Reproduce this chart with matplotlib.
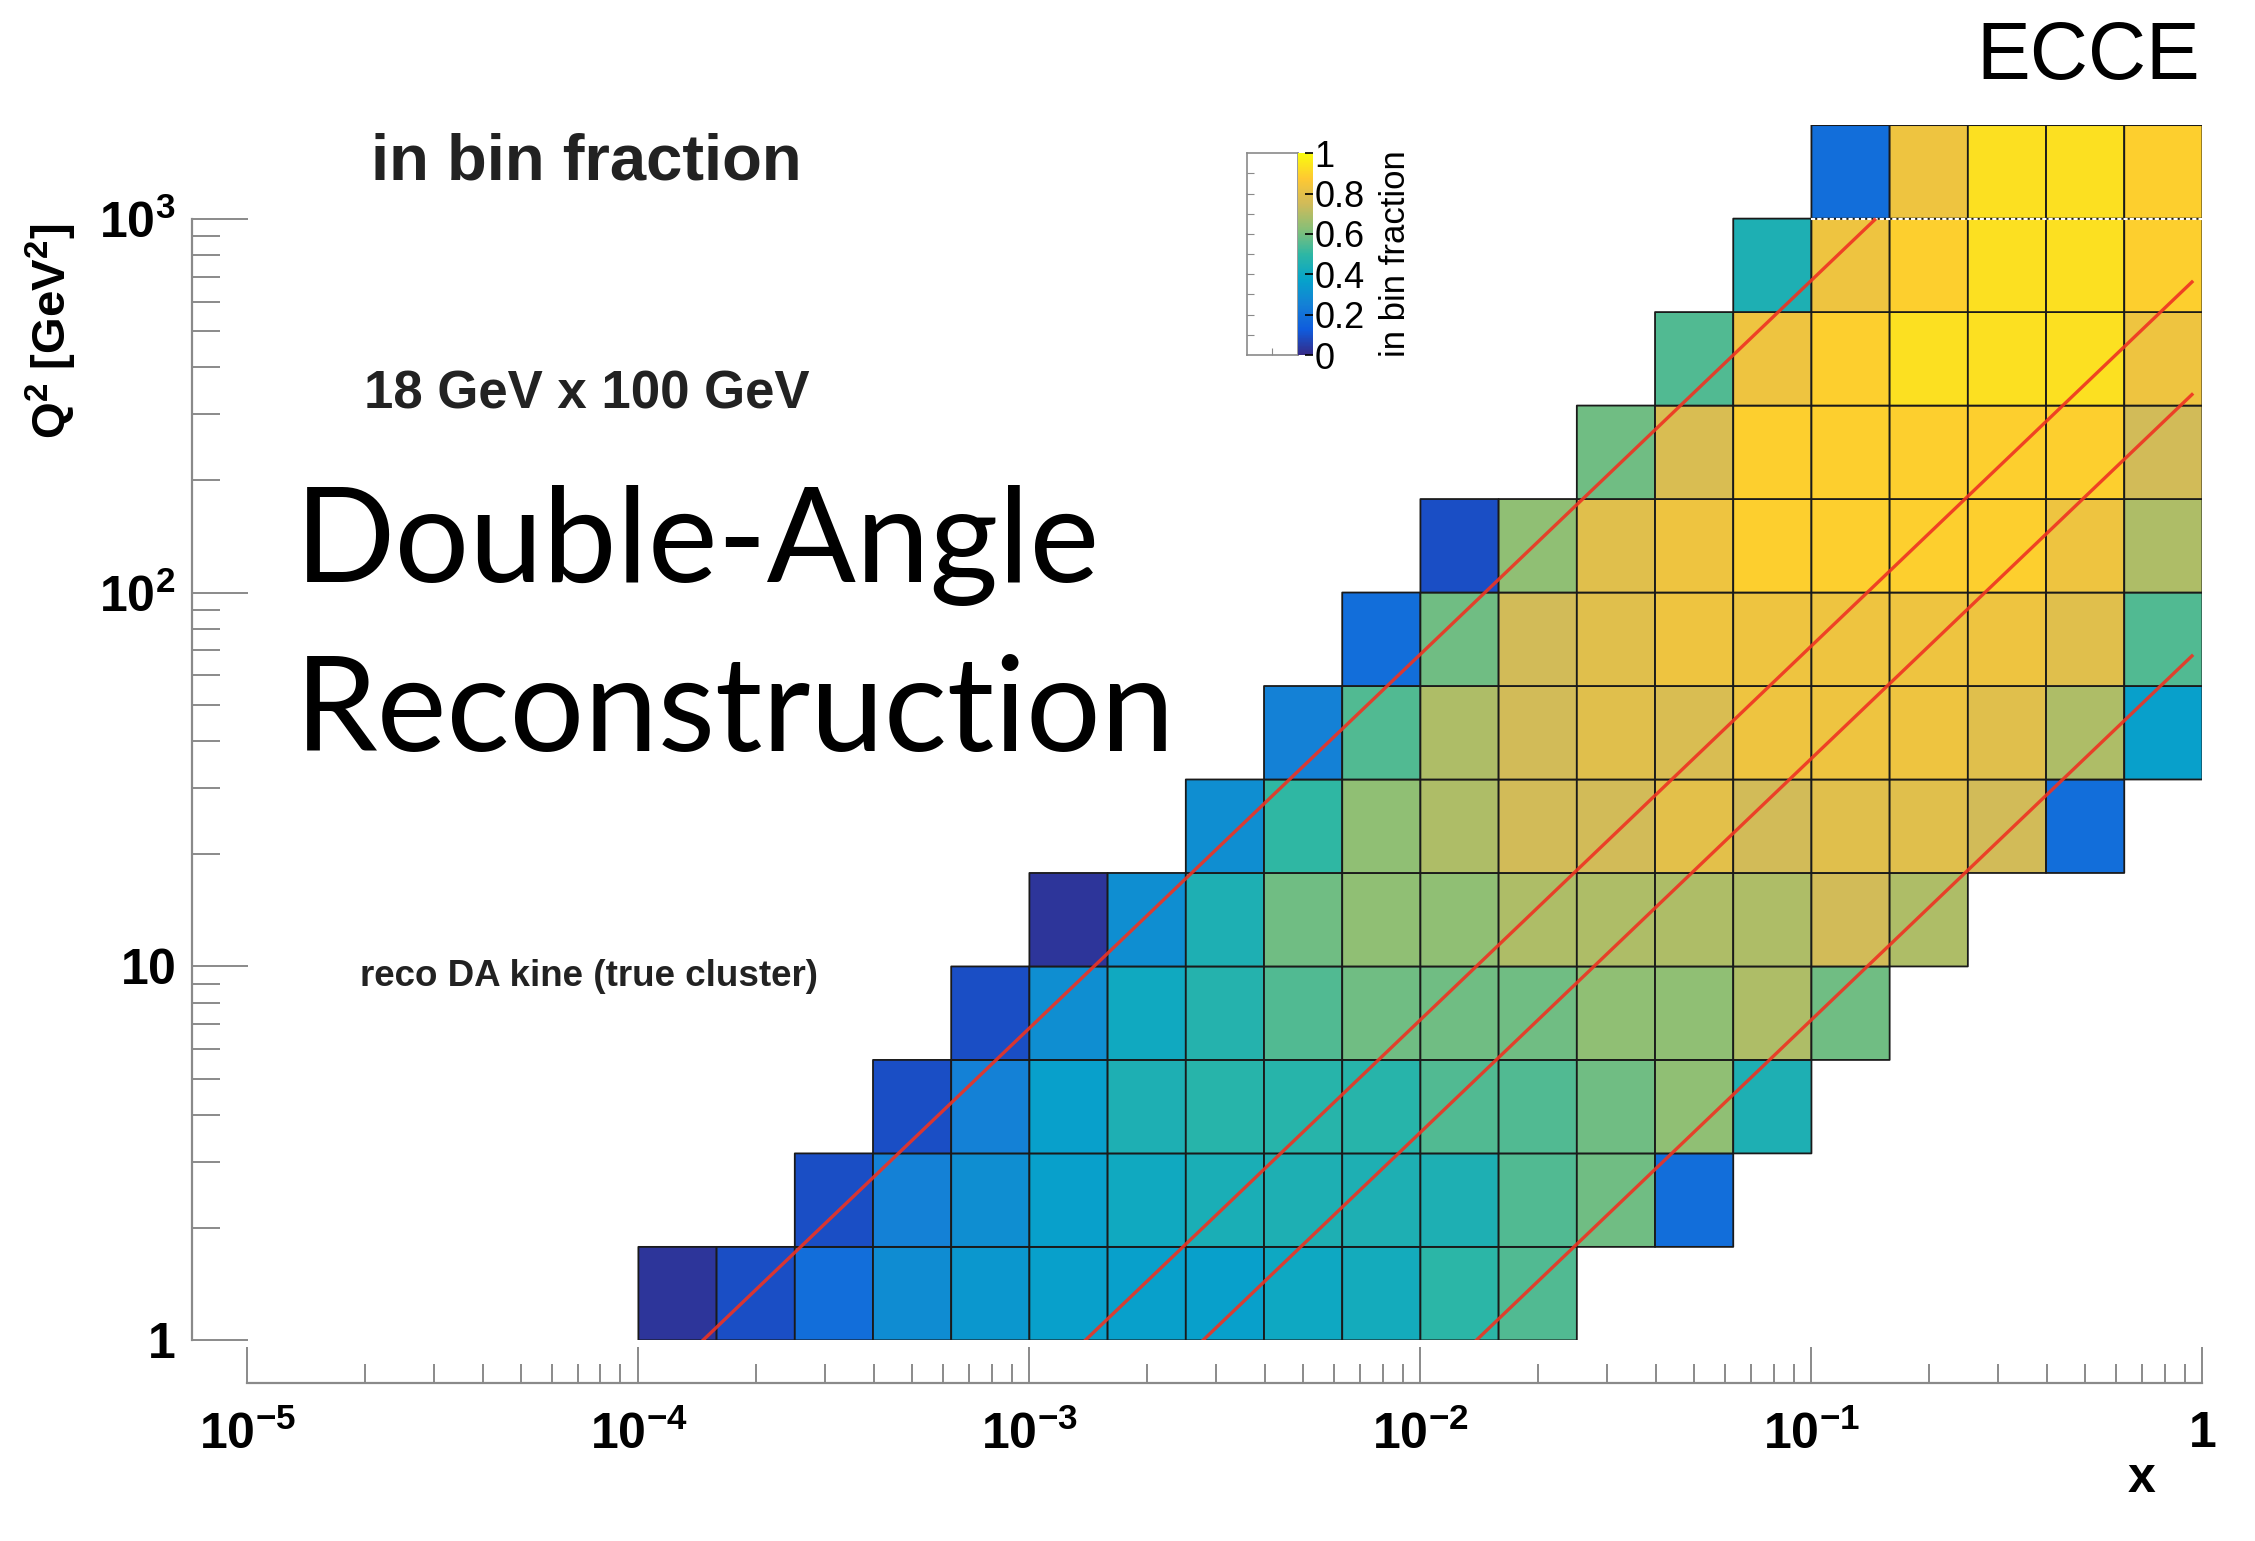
import matplotlib
matplotlib.use('Agg')
import matplotlib.pyplot as plt
import numpy as np
from matplotlib.colors import LinearSegmentedColormap
from matplotlib.ticker import FixedLocator, FixedFormatter, LogLocator, NullFormatter

plt.rcParams['font.family'] = ['Liberation Sans', 'DejaVu Sans']
plt.rcParams['mathtext.fontset'] = 'custom'
plt.rcParams['mathtext.rm'] = 'Liberation Sans:bold'
plt.rcParams['mathtext.it'] = 'Liberation Sans:bold'
plt.rcParams['mathtext.bf'] = 'Liberation Sans:bold'

# histogram binning: 5 bins per decade in x, 4 per decade in Q2
x_edges = np.logspace(-4, 0, 21)
q2_edges = np.logspace(0, 3.25, 14)

N = np.nan
# in bin fraction, rows from low Q2 (bottom) to high Q2 (top)
frac = [
    [0.03, 0.09, 0.19, 0.29, 0.33, 0.36, 0.36, 0.36, 0.40, 0.42, 0.49, 0.55, N, N, N, N, N, N, N, N],
    [N, N, 0.09, 0.25, 0.30, 0.36, 0.41, 0.44, 0.45, 0.45, 0.45, 0.55, 0.59, 0.19, N, N, N, N, N, N],
    [N, N, N, 0.09, 0.25, 0.36, 0.45, 0.48, 0.48, 0.48, 0.55, 0.55, 0.59, 0.64, 0.45, N, N, N, N, N],
    [N, N, N, N, 0.09, 0.30, 0.41, 0.47, 0.55, 0.59, 0.59, 0.59, 0.64, 0.64, 0.69, 0.59, N, N, N, N],
    [N, N, N, N, N, 0.03, 0.30, 0.45, 0.59, 0.64, 0.64, 0.69, 0.69, 0.69, 0.69, 0.75, 0.69, N, N, N],
    [N, N, N, N, N, N, N, 0.30, 0.50, 0.64, 0.69, 0.75, 0.75, 0.80, 0.75, 0.79, 0.79, 0.75, 0.19, N],
    [N, N, N, N, N, N, N, N, 0.25, 0.55, 0.69, 0.75, 0.79, 0.77, 0.83, 0.83, 0.83, 0.79, 0.69, 0.36],
    [N, N, N, N, N, N, N, N, N, 0.19, 0.59, 0.75, 0.79, 0.83, 0.83, 0.83, 0.83, 0.83, 0.79, 0.55],
    [N, N, N, N, N, N, N, N, N, N, 0.09, 0.64, 0.79, 0.83, 0.89, 0.89, 0.89, 0.89, 0.83, 0.69],
    [N, N, N, N, N, N, N, N, N, N, N, N, 0.59, 0.77, 0.89, 0.89, 0.89, 0.89, 0.89, 0.75],
    [N, N, N, N, N, N, N, N, N, N, N, N, N, 0.55, 0.83, 0.89, 0.93, 0.93, 0.93, 0.83],
    [N, N, N, N, N, N, N, N, N, N, N, N, N, N, 0.45, 0.83, 0.89, 0.93, 0.93, 0.89],
    [N, N, N, N, N, N, N, N, N, N, N, N, N, N, N, 0.19, 0.83, 0.93, 0.93, 0.89],
]

# lines of constant inelasticity y, Q2 = s x y
e_beam, p_beam = 18.0, 100.0
y_lines = [0.95, 0.1, 0.05, 0.01]
q2_line_range = [1.0, 1000.0]
x_line_max = 0.94

x_ticks = [1e-5, 1e-4, 1e-3, 1e-2, 1e-1, 1]
x_tick_labels = ['$10^{-5}$', '$10^{-4}$', '$10^{-3}$', '$10^{-2}$', '$10^{-1}$', '$1$']
y_ticks = [1, 10, 100, 1000]
y_tick_labels = ['$1$', '$10$', '$10^{2}$', '$10^{3}$']
cb_ticks = [0, 0.2, 0.4, 0.6, 0.8, 1]
cb_tick_labels = ['0', '0.2', '0.4', '0.6', '0.8', '1']

# ROOT kBird palette
bird_stops = [0.0, 0.125, 0.25, 0.375, 0.5, 0.625, 0.75, 0.875, 1.0]
bird_r = [0.2082, 0.0592, 0.0780, 0.0232, 0.1802, 0.5301, 0.8186, 0.9956, 0.9764]
bird_g = [0.1664, 0.3599, 0.5041, 0.6419, 0.7178, 0.7492, 0.7328, 0.7862, 0.9832]
bird_b = [0.5293, 0.8684, 0.8385, 0.7914, 0.6425, 0.4662, 0.3499, 0.1968, 0.0539]
bird = LinearSegmentedColormap.from_list(
    'bird', list(zip(bird_stops, zip(bird_r, bird_g, bird_b))))

axis_grey = '#8a8a8a'

fig = plt.figure(figsize=(22.55, 15.41), dpi=100)
ax = fig.add_axes([0.1097, 0.1302, 0.8670, 0.7886])
ax.set_xscale('log')
ax.set_yscale('log')

# pcolor drops masked (empty) bins, so no outline is drawn for them
mesh = ax.pcolor(x_edges, q2_edges, np.ma.masked_invalid(np.array(frac)),
                 cmap=bird, vmin=0, vmax=1,
                 edgecolors='#1a1a1a', linewidth=1.3)
ax.hlines(q2_edges[12], x_edges[15], x_edges[20], colors='white',
          linestyles=(0, (2, 1)), linewidth=1.5)

s = 4 * e_beam * p_beam
for yv in y_lines:
    xs = np.logspace(np.log10(q2_line_range[0] / (s * yv)), np.log10(x_line_max), 400)
    q2 = s * xs * yv
    keep = q2 <= q2_line_range[1]
    ax.plot(xs[keep], q2[keep], color='#ee3322', lw=2.4, alpha=0.9)

ax.set_xlim(1e-5, 1)
ax.set_ylim(1, 10 ** 3.25)

for side in ['top', 'right']:
    ax.spines[side].set_visible(False)
ax.spines['left'].set_position(('outward', 40))
ax.spines['left'].set_bounds(1, 1000)
ax.spines['bottom'].set_position(('outward', 31))
for side in ['left', 'bottom']:
    ax.spines[side].set_color(axis_grey)
    ax.spines[side].set_linewidth(1.6)

ax.xaxis.set_major_locator(FixedLocator(x_ticks))
ax.xaxis.set_major_formatter(FixedFormatter(x_tick_labels))
ax.xaxis.set_minor_locator(LogLocator(base=10, subs=np.arange(2, 10), numticks=20))
ax.xaxis.set_minor_formatter(NullFormatter())
ax.yaxis.set_major_locator(FixedLocator(y_ticks))
ax.yaxis.set_major_formatter(FixedFormatter(y_tick_labels))
ax.yaxis.set_minor_locator(LogLocator(base=10, subs=np.arange(2, 10), numticks=20))
ax.yaxis.set_minor_formatter(NullFormatter())

ax.tick_params(axis='x', which='major', direction='in', length=26, width=1.4,
               color=axis_grey, pad=20, labelsize=36)
ax.tick_params(axis='x', which='minor', direction='in', length=14, width=1.4, color=axis_grey)
ax.tick_params(axis='y', which='major', direction='in', length=40, width=1.4,
               color=axis_grey, pad=12, labelsize=36)
ax.tick_params(axis='y', which='minor', direction='in', length=20, width=1.4, color=axis_grey)

ax.set_xlabel('x', fontsize=36, fontweight='bold')
ax.xaxis.set_label_coords(0.969, -0.095)
ax.set_ylabel('Q$^{2}$ [GeV$^{2}$]', fontsize=34, fontweight='bold')
ax.yaxis.set_label_coords(-0.086, 0.83)

# palette: empty frame + narrow colour bar
bax = fig.add_axes([0.553, 0.7696, 0.0226, 0.131])
bax.set_facecolor('white')
bax.set_xlim(0, 1)
bax.set_ylim(0, 1)
bax.set_xticks([0.5])
bax.set_yticks([0.1 * k for k in range(1, 10)])
bax.tick_params(direction='in', length=5, color=axis_grey, labelleft=False, labelbottom=False)
for sp in bax.spines.values():
    sp.set_color(axis_grey)
    sp.set_linewidth(1.2)

cax = fig.add_axes([0.5756, 0.7696, 0.0067, 0.131])
cb = fig.colorbar(mesh, cax=cax)
cb.outline.set_visible(False)
cb.set_ticks(cb_ticks)
cb.set_ticklabels(cb_tick_labels)
cb.ax.tick_params(labelsize=26, direction='in', length=6, width=1.2, pad=1)
cb.set_label('in bin fraction', fontsize=25, labelpad=10)

fig.text(0.1645, 0.8832, 'in bin fraction', fontsize=47, fontweight='bold',
         ha='left', va='baseline', color='#222222')
fig.text(0.1613, 0.7352, '18 GeV x 100 GeV', fontsize=38, fontweight='bold',
         ha='left', va='baseline', color='#222222')
fig.text(0.1307, 0.6222, 'Double-Angle', fontsize=95, family='Lato',
         ha='left', va='baseline')
fig.text(0.1307, 0.5128, 'Reconstruction', fontsize=95, family='Lato',
         ha='left', va='baseline')
fig.text(0.1595, 0.3600, 'reco DA kine (true cluster)', fontsize=26.5, fontweight='bold',
         ha='left', va='baseline', color='#222222')
fig.text(0.9756, 0.9487, 'ECCE', fontsize=58, ha='right', va='baseline')

fig.savefig('out.png', dpi=100, facecolor='white')
